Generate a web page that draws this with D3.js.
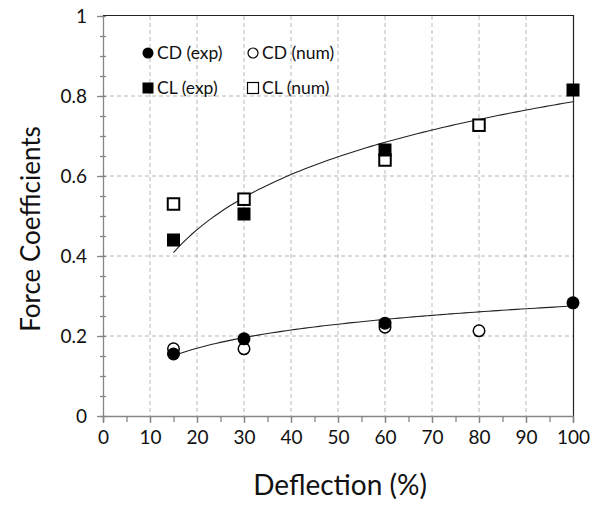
<!DOCTYPE html>
<html>
<head>
<meta charset="utf-8">
<script src="https://cdn.jsdelivr.net/npm/d3@7"></script>
<style>
  body { margin: 0; background: #fff; }
  svg text { font-family: Lato, "Open Sans", sans-serif; fill: #111; }
</style>
</head>
<body>
<svg id="chart" width="594" height="505"></svg>
<script>
// deflection values (%)
var cdExpX = [15, 30, 60, 100];
var cdExpY = [0.155, 0.193, 0.232, 0.283];
var cdNumX = [15, 30, 60, 80];
var cdNumY = [0.168, 0.168, 0.222, 0.213];
var clExpX = [15, 30, 60, 100];
var clExpY = [0.44, 0.505, 0.665, 0.815];
var clNumX = [15, 30, 60, 80];
var clNumY = [0.53, 0.542, 0.64, 0.727];

var xTicks = [0, 10, 20, 30, 40, 50, 60, 70, 80, 90, 100];
var yTicks = [0, 0.2, 0.4, 0.6, 0.8, 1];
var legendItems = ["CD (exp)", "CD (num)", "CL (exp)", "CL (num)"];

var svg = d3.select("#chart");
var pLeft = 103, pRight = 573, pTop = 16, pBottom = 416;

var x = d3.scaleLinear().domain([0, 100]).range([pLeft, pRight]);
var y = d3.scaleLinear().domain([0, 1]).range([pBottom, pTop]);

// grid
svg.append("g").selectAll("line")
    .data(xTicks.slice(1, -1))
    .join("line")
    .attr("x1", d => x(d)).attr("x2", d => x(d))
    .attr("y1", pTop).attr("y2", pBottom)
    .attr("stroke", "#b8b8b8").attr("stroke-dasharray", "4,3");
svg.append("g").selectAll("line")
    .data(yTicks.slice(1, -1))
    .join("line")
    .attr("x1", pLeft).attr("x2", pRight)
    .attr("y1", d => y(d)).attr("y2", d => y(d))
    .attr("stroke", "#b8b8b8").attr("stroke-dasharray", "4,3");

// border top / right
svg.append("path")
    .attr("d", "M" + pLeft + "," + (pTop - 0.5) + "H" + (pRight + 0.5) + "V" + pBottom)
    .attr("fill", "none").attr("stroke", "#222").attr("stroke-width", 1.2);

// x axis
var xAxis = svg.append("g").attr("transform", "translate(0," + pBottom + ")");
xAxis.call(d3.axisBottom(x).tickValues(d3.range(0, 101, 5)).tickSize(6).tickFormat(""));
xAxis.append("g").call(d3.axisBottom(x).tickValues(xTicks).tickSize(7).tickPadding(8))
    .call(g => g.select(".domain").remove());
xAxis.selectAll("path, line").attr("stroke", "#868686").attr("stroke-width", 1.3);
xAxis.selectAll("text").attr("font-size", 19).attr("fill", "#111")
    .style("font-family", "Lato, 'Open Sans', sans-serif");

// y axis
var yAxis = svg.append("g").attr("transform", "translate(" + pLeft + ",0)");
yAxis.call(d3.axisLeft(y).tickValues(d3.range(0, 1.001, 0.05)).tickSize(0).tickFormat(""));
yAxis.selectAll(".tick line").attr("x1", -3).attr("x2", 3);
yAxis.append("g").call(d3.axisLeft(y).tickValues(yTicks).tickSize(6).tickPadding(10).tickFormat(d3.format("")))
    .call(g => g.select(".domain").remove());
yAxis.selectAll("path, line").attr("stroke", "#868686").attr("stroke-width", 1.3);
yAxis.selectAll("text").attr("font-size", 19).attr("fill", "#111")
    .style("font-family", "Lato, 'Open Sans', sans-serif");

// axis titles
svg.append("text")
    .attr("x", (pLeft + pRight) / 2 + 2).attr("y", 495)
    .attr("text-anchor", "middle").attr("font-size", 28)
    .text("Deflection (%)");
svg.append("text")
    .attr("transform", "translate(40,229) rotate(-90)")
    .attr("text-anchor", "middle").attr("font-size", 26)
    .text("Force Coefficients");

// logarithmic trend lines fitted to the experimental series
function logFit(xs, ys) {
    var lx = xs.map(Math.log);
    var mx = d3.mean(lx), my = d3.mean(ys);
    var sxy = d3.sum(lx, (v, i) => (v - mx) * (ys[i] - my));
    var sxx = d3.sum(lx, v => (v - mx) * (v - mx));
    var a = sxy / sxx, b = my - a * mx;
    return v => a * Math.log(v) + b;
}
function trend(xs, ys) {
    var f = logFit(xs, ys);
    var pts = d3.range(xs[0], xs[xs.length - 1] + 0.01, 1).map(v => [v, f(v)]);
    svg.append("path")
        .attr("d", d3.line().x(d => x(d[0])).y(d => y(d[1]))(pts))
        .attr("fill", "none").attr("stroke", "#222").attr("stroke-width", 1.1);
}
trend(clExpX, clExpY);
trend(cdExpX, cdExpY);

// markers
var ms = 13;
function squares(xs, ys, filled) {
    svg.append("g").selectAll("rect")
        .data(xs.map((v, i) => [v, ys[i]]))
        .join("rect")
        .attr("x", d => x(d[0]) - ms / 2 + (filled ? 0 : 0.75))
        .attr("y", d => y(d[1]) - ms / 2 + (filled ? 0 : 0.75))
        .attr("width", filled ? ms : ms - 1.5).attr("height", filled ? ms : ms - 1.5)
        .attr("fill", filled ? "#000" : "#fff")
        .attr("stroke", filled ? "none" : "#000").attr("stroke-width", 2);
}
function circles(xs, ys, filled) {
    svg.append("g").selectAll("circle")
        .data(xs.map((v, i) => [v, ys[i]]))
        .join("circle")
        .attr("cx", d => x(d[0])).attr("cy", d => y(d[1]))
        .attr("r", filled ? ms / 2 : ms / 2 - 0.75)
        .attr("fill", filled ? "#000" : "#fff")
        .attr("stroke", filled ? "none" : "#000").attr("stroke-width", 1.5);
}
circles(cdNumX, cdNumY, false);
circles(cdExpX, cdExpY, true);
squares(clNumX, clNumY, false);
squares(clExpX, clExpY, true);

// legend
var legPos = [[148, 53], [253, 53], [148, 88], [253, 88]];
var lg = svg.append("g");
legendItems.forEach(function(name, i) {
    var p = legPos[i];
    var filled = i % 2 === 0;
    if (i < 2) {
        lg.append("circle").attr("cx", p[0]).attr("cy", p[1])
            .attr("r", filled ? 5.5 : 5)
            .attr("fill", filled ? "#000" : "#fff")
            .attr("stroke", filled ? "none" : "#000").attr("stroke-width", 1.2);
    } else {
        lg.append("rect").attr("x", p[0] - 5.5).attr("y", p[1] - 5.5)
            .attr("width", 11).attr("height", 11)
            .attr("fill", filled ? "#000" : "#fff")
            .attr("stroke", filled ? "none" : "#000").attr("stroke-width", 1.2);
    }
    lg.append("text").attr("x", p[0] + 9).attr("y", p[1] + 6)
        .attr("font-size", 17.5).text(name);
});
</script>
</body>
</html>
